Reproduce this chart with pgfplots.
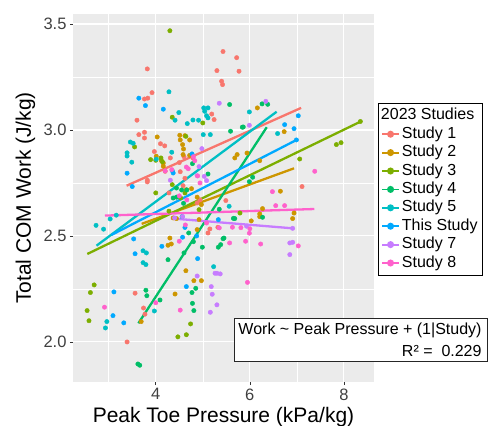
\documentclass[border=0pt]{standalone}
\usepackage{fontspec}
\setmainfont{Liberation Sans}
\usepackage{pgfplots}
\pgfplotsset{compat=1.18}
\definecolor{sa}{HTML}{F8766D}
\definecolor{sb}{HTML}{CD9600}
\definecolor{sc}{HTML}{7CAE00}
\definecolor{sd}{HTML}{00BE67}
\definecolor{se}{HTML}{00BFC4}
\definecolor{sf}{HTML}{00A9FF}
\definecolor{sg}{HTML}{C77CFF}
\definecolor{sh}{HTML}{FF61CC}
\definecolor{panel}{HTML}{EBEBEB}

\begin{document}
\begin{tikzpicture}
\begin{axis}[
    scale only axis,
    width=301pt, height=368pt,
    xmin=2.24, xmax=8.64, ymin=1.811, ymax=3.547,
    xtick={4,6,8}, ytick={2,2.5,3,3.5},
    minor xtick={3,5,7}, minor ytick={2.25,2.75,3.25},
    grid=both,
    major grid style={white, line width=1.1pt},
    minor grid style={white, line width=0.55pt},
    axis background/.style={fill=panel},
    axis line style={draw=none},
    tick pos=left,
    tick align=outside,
    major tick length=3pt, minor tick length=0pt,
    tick style={black!80, line width=0.6pt},
    yticklabel style={/pgf/number format/.cd, fixed, fixed zerofill, precision=1},
    /pgf/number format/assume math mode=true,
    ticklabel style={font=\fontsize{16.5}{19}\selectfont, text=black!75},
    xlabel={Peak Toe Pressure (kPa/kg)},
    ylabel={Total COM Work (J/kg)},
    label style={font=\fontsize{21}{25}\selectfont},
    xlabel style={at={(axis description cs:0.5,-0.1106)}, anchor=base},
    ylabel style={at={(axis description cs:-0.14,0.5)}, anchor=base},
    clip=false,
    legend cell align=left,
    legend image code/.code={
        \draw[#1, line width=1.8pt] (0pt,0pt) -- (17pt,0pt);
        \fill[#1] (8.5pt,0pt) circle (2.3pt);
    },
    legend style={at={(rel axis cs:1.012,0.758)}, anchor=north west,
        draw=black, line width=1.1pt, fill=white,
        font=\fontsize{16}{19}\selectfont,
        inner xsep=3pt, inner ysep=3pt, row sep=0pt,
        nodes={inner ysep=1.2pt, inner xsep=2pt, text height=12pt, text depth=4pt}},
]
% scatter: one series per study
\addplot[only marks, mark=*, mark size=2.2pt, color=sa, forget plot] coordinates {
(5.43,3.37) (3.82,3.288) (5.30,3.28) (5.40,3.23) (5.42,3.214) (3.92,3.176) (3.76,3.146)
(3.83,3.15) (3.60,3.046) (5.19,3.075) (5.24,3.049) (3.64,2.978) (3.76,2.989) (3.76,2.962)
(5.72,3.341) (5.77,3.277) (4.10,2.935) (4.19,2.925) (3.97,2.898) (4.31,2.868) (4.79,2.868)
(4.20,2.805) (3.82,2.763) (3.82,2.755) (4.58,2.737) (4.28,2.703) (4.88,2.656) (5.15,2.533)
(5.11,2.514) (7.11,2.733) (5.49,2.667) (3.56,2.23) (3.74,2.16) (3.77,2.131) (3.39,2.0)
(4.60,2.874) (4.50,2.846) (4.52,2.803) (4.62,2.772) (5.32,2.541) (4.94,2.67)
};
\addplot[only marks, mark=*, mark size=2.2pt, color=sb, forget plot] coordinates {
(4.03,2.967) (4.51,2.975) (4.62,2.973) (4.52,2.953) (4.72,2.953) (4.57,2.931) (4.59,2.91)
(4.01,2.876) (4.12,2.855) (4.16,2.844) (4.16,2.829) (4.58,2.884) (4.72,2.88) (4.65,2.718)
(4.76,2.723) (4.88,2.683) (4.97,2.648) (4.37,2.585) (4.44,2.582) (4.92,2.577) (4.30,2.49)
(4.26,2.456) (4.33,2.462) (6.16,3.104) (6.73,2.992) (5.73,2.884) (5.68,2.868) (5.94,2.891)
(6.21,2.855) (6.65,2.711) (6.27,2.629) (6.94,2.608) (6.91,2.582) (6.21,2.604) (6.21,2.591)
(6.03,2.571) (3.69,2.096) (4.64,2.336) (4.81,2.289) (4.97,2.289) (4.41,2.226) (4.88,2.53)
};
\addplot[only marks, mark=*, mark size=2.2pt, color=sc, forget plot] coordinates {
(4.30,3.468) (4.35,3.06) (5.0,3.033) (4.64,2.97) (3.55,2.92) (3.89,2.86) (4.0,2.857)
(4.11,2.868) (4.14,2.85) (4.35,2.742) (4.53,2.679) (4.0,2.703) (4.62,2.703) (4.92,2.624)
(4.28,2.617) (7.06,2.863) (7.84,2.931) (7.94,2.94) (8.35,3.04) (5.79,2.608) (2.69,2.269)
(2.61,2.233) (2.54,2.148) (2.58,2.10) (4.74,2.085) (4.65,2.034) (4.47,2.024)
};
\addplot[only marks, mark=*, mark size=2.2pt, color=sd, forget plot] coordinates {
(5.57,3.12) (6.26,3.123) (6.38,3.121) (5.84,3.013) (5.86,3.014) (5.59,2.994) (4.78,2.841)
(4.44,2.726) (4.37,2.679) (4.44,2.683) (5.11,2.792) (4.70,2.514) (4.26,2.388) (4.60,2.42)
(5.33,2.447) (5.38,2.459) (6.06,2.777) (5.99,2.756) (6.27,2.588) (5.68,2.582) (5.45,2.49)
(3.79,2.244) (3.81,2.218) (4.09,2.198) (3.62,1.896) (3.66,1.89) (4.85,2.253) (4.77,2.233)
(4.78,2.182) (4.81,2.148) (4.55,2.717) (4.66,2.717) (4.59,2.654) (5.35,2.626) (5.65,2.583)
(4.80,2.473) (4.99,2.447) (5.43,2.487)
};
\addplot[only marks, mark=*, mark size=2.2pt, color=se, forget plot] coordinates {
(4.28,3.18) (4.49,3.082) (4.41,3.046) (4.67,3.03) (4.79,3.047) (4.91,3.046) (5.02,3.104)
(5.11,3.104) (5.04,3.088) (5.08,3.067) (5.11,3.057) (5.01,2.978) (5.16,2.978) (5.99,3.085)
(6.59,2.983) (3.46,2.943) (3.52,2.937) (3.39,2.892) (3.39,2.877) (3.49,2.848) (4.34,2.895)
(4.01,2.862) (2.73,2.55) (2.89,2.532) (3.03,2.58) (3.16,2.598) (3.73,2.43) (3.80,2.42)
(3.73,2.374) (3.79,2.365) (2.96,2.096) (2.93,2.066) (3.97,2.146) (5.23,2.355) (5.56,2.64)
(4.56,2.591)
};
\addplot[only marks, mark=*, mark size=2.2pt, color=sf, forget plot] coordinates {
(3.64,3.15) (3.78,3.115) (4.16,3.098) (7.03,3.067) (6.74,3.025) (6.94,3.006) (6.99,2.953)
(3.39,2.796) (4.77,2.887) (4.37,2.797) (4.35,2.808) (3.50,2.733) (5.33,2.577) (4.62,2.54)
(4.57,2.494) (3.53,2.486) (3.56,2.416) (4.13,2.451) (4.89,2.393) (3.11,2.236) (3.09,2.124)
(3.32,2.09) (4.65,2.261) (4.87,2.5)
};
\addplot[only marks, mark=*, mark size=2.2pt, color=sg, forget plot] coordinates {
(5.35,3.126) (6.34,3.135) (5.99,3.022) (4.98,2.912) (4.31,2.763) (4.88,2.784) (5.03,2.781)
(5.08,2.761) (4.57,2.591) (5.93,2.546) (6.85,2.467) (6.91,2.47) (6.85,2.412) (4.88,2.311)
(5.26,2.324) (5.30,2.324) (5.37,2.321) (5.18,2.261) (5.20,2.225) (5.30,2.175) (5.16,2.14)
(4.92,2.827) (6.91,2.536) (4.40,2.585)
};
\addplot[only marks, mark=*, mark size=2.2pt, color=sh, forget plot] coordinates {
(4.65,2.825) (4.69,2.817) (4.34,2.813) (4.94,2.75) (5.08,2.561) (5.35,2.538) (4.50,2.475)
(7.38,2.805) (6.48,2.709) (6.55,2.643) (6.74,2.643) (5.63,2.541) (6.0,2.534) (5.99,2.513)
(5.57,2.467) (5.91,2.475) (6.23,2.462) (7.03,2.453) (2.91,2.164) (4.0,2.185) (4.52,2.15)
(5.95,2.281) (4.80,2.874) (4.83,2.855) (4.20,2.807) (4.89,2.783) (4.50,2.689) (4.66,2.67)
(5.81,2.539) (4.63,2.552)
};
% legend title
\addlegendimage{empty legend}
\addlegendentry{\hspace*{-21pt}2023 Studies}
% fitted lines
\addplot[sa, line width=2.3pt] coordinates {(3.38,2.737) (7.09,3.104)};
\addlegendentry{Study 1}
\addplot[sb, line width=2.3pt] coordinates {(3.70,2.557) (6.94,2.819)};
\addlegendentry{Study 2}
\addplot[sc, line width=2.3pt] coordinates {(2.545,2.415) (8.36,3.04)};
\addlegendentry{Study 3}
\addplot[sd, line width=2.3pt] coordinates {(3.63,2.088) (6.36,3.013)};
\addlegendentry{Study 4}
\addplot[se, line width=2.3pt] coordinates {(2.74,2.454) (6.57,3.086)};
\addlegendentry{Study 5}
\addplot[sf, line width=2.3pt] coordinates {(3.06,2.505) (7.02,2.956)};
\addlegendentry{This Study}
\addplot[sg, line width=2.3pt] coordinates {(4.32,2.583) (6.91,2.536)};
\addlegendentry{Study 7}
\addplot[sh, line width=2.3pt] coordinates {(2.92,2.596) (7.37,2.627)};
\addlegendentry{Study 8}
% model annotation
\draw[black!85, line width=0.9pt, fill=white] (rel axis cs:0.536,0.0552) rectangle (rel axis cs:1.376,0.173);
\node[anchor=base east, inner sep=0pt, font=\fontsize{16}{19}\selectfont] at (rel axis cs:1.358,0.1296) {Work \textasciitilde{} Peak Pressure + (1|Study)};
\node[anchor=base east, inner sep=0pt, font=\fontsize{16}{19}\selectfont] at (rel axis cs:1.358,0.0688) {R² =\ \ 0.229};
\end{axis}
\pgfresetboundingbox
\path (-73pt,-44pt) rectangle (420pt,382pt);
\end{tikzpicture}
\end{document}
